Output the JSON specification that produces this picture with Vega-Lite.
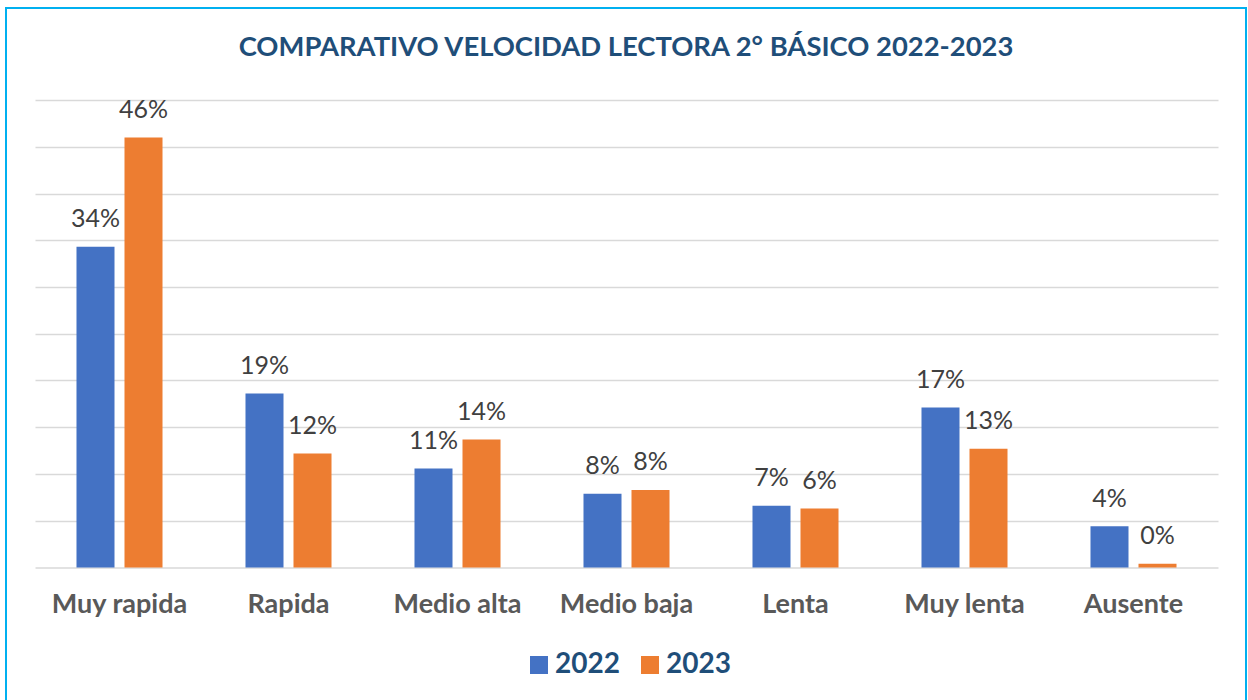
{
  "$schema": "https://vega.github.io/schema/vega-lite/v6.json",
  "autosize": {"type": "none"},
  "width": 1240,
  "height": 696,
  "padding": {"left": 6, "top": 8, "right": 2, "bottom": -4},
  "background": "white",
  "title": {
    "text": "COMPARATIVO VELOCIDAD LECTORA 2° BÁSICO 2022-2023",
    "font": "Lato",
    "fontSize": 27.4,
    "fontWeight": "bold",
    "color": "#1F4E79",
    "frame": "group",
    "anchor": "middle",
    "offset": -75,
    "baseline": "alphabetic"
  },
  "config": {
    "view": {"stroke": "#00B0F0", "strokeWidth": 2},
    "font": "Lato"
  },
  "data": {
    "values": [
      {"categoria": "Muy rapida", "anio": "2022", "valor": 0.343},
      {"categoria": "Muy rapida", "anio": "2023", "valor": 0.460},
      {"categoria": "Rapida", "anio": "2022", "valor": 0.186},
      {"categoria": "Rapida", "anio": "2023", "valor": 0.122},
      {"categoria": "Medio alta", "anio": "2022", "valor": 0.106},
      {"categoria": "Medio alta", "anio": "2023", "valor": 0.137},
      {"categoria": "Medio baja", "anio": "2022", "valor": 0.079},
      {"categoria": "Medio baja", "anio": "2023", "valor": 0.083},
      {"categoria": "Lenta", "anio": "2022", "valor": 0.066},
      {"categoria": "Lenta", "anio": "2023", "valor": 0.063},
      {"categoria": "Muy lenta", "anio": "2022", "valor": 0.171},
      {"categoria": "Muy lenta", "anio": "2023", "valor": 0.127},
      {"categoria": "Ausente", "anio": "2022", "valor": 0.044},
      {"categoria": "Ausente", "anio": "2023", "valor": 0.004}
    ]
  },
  "encoding": {
    "x": {
      "field": "categoria",
      "type": "nominal",
      "sort": null,
      "scale": {"range": [29, 1212], "paddingInner": 0.491, "paddingOuter": 0.2455},
      "axis": {
        "title": null,
        "labelAngle": 0,
        "labelFont": "Lato",
        "labelFontSize": 27,
        "labelFontWeight": "bold",
        "labelColor": "#595959",
        "labelBaseline": "alphabetic",
        "labelPadding": 45,
        "ticks": false,
        "tickSize": 0,
        "domainColor": "#D9D9D9",
        "domainWidth": 1.5,
        "offset": -136.5,
        "grid": false
      }
    },
    "xOffset": {
      "field": "anio",
      "type": "nominal",
      "scale": {"paddingInner": 0.208, "paddingOuter": 0}
    },
    "y": {
      "field": "valor",
      "type": "quantitative",
      "stack": null,
      "scale": {"domain": [-0.146, 0.5984], "nice": false, "zero": false},
      "axis": {
        "title": null,
        "labels": false,
        "ticks": false,
        "domain": false,
        "grid": true,
        "gridColor": "#D9D9D9",
        "gridWidth": 1.5,
        "values": [0.05, 0.1, 0.15, 0.2, 0.25, 0.3, 0.35, 0.4, 0.45, 0.5]
      }
    }
  },
  "layer": [
    {
      "mark": {"type": "bar"},
      "encoding": {
        "color": {
          "field": "anio",
          "type": "nominal",
          "scale": {"domain": ["2022", "2023"], "range": ["#4472C4", "#ED7D31"]},
          "legend": {
            "title": null,
            "orient": "none",
            "legendX": 519,
            "legendY": 643,
            "direction": "horizontal",
            "symbolType": "square",
            "symbolSize": 324,
            "symbolStrokeWidth": 0,
            "symbolOpacity": 1,
            "labelFont": "Lato",
            "labelFontSize": 28,
            "labelFontWeight": "bold",
            "labelColor": "#1F4E79",
            "labelOffset": 2,
            "columnPadding": 16,
            "padding": 0
          }
        }
      }
    },
    {
      "mark": {
        "type": "text",
        "baseline": "alphabetic",
        "dy": -19.5,
        "font": "Lato",
        "fontSize": 25,
        "color": "#404040"
      },
      "encoding": {
        "text": {"field": "valor", "type": "quantitative", "format": ".0%"}
      }
    }
  ]
}
